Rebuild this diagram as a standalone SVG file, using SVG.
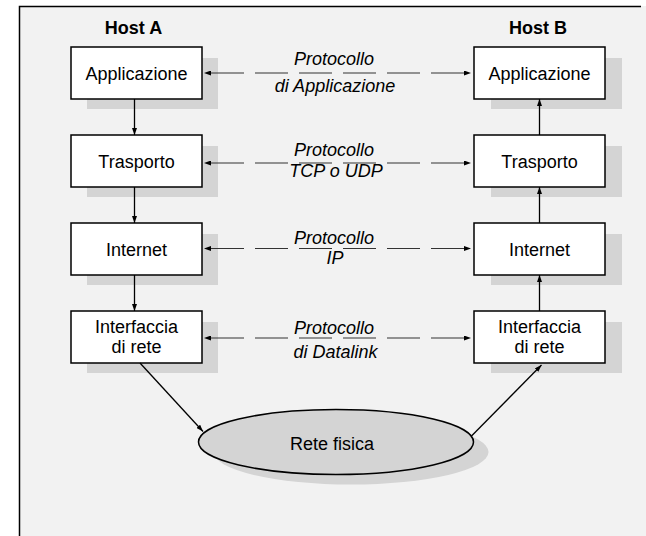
<svg xmlns="http://www.w3.org/2000/svg" width="646" height="536" viewBox="0 0 646 536">
<style>
text{font-family:"Liberation Sans",Arial,sans-serif;font-size:18px;fill:#000}
.host{font-weight:bold;text-anchor:middle}
.lbl{text-anchor:middle}
.proto{font-style:italic;text-anchor:middle}
.box{fill:#fff;stroke:#000;stroke-width:1.5}
.shadow{fill:#d4d4d4}
.dash{fill:none;stroke:#333;stroke-width:1.2;stroke-dasharray:33 11}
.solid{fill:none;stroke:#000;stroke-width:1.3}
</style>
<defs>
<marker id="ah" viewBox="0 0 7 5" refX="0" refY="2.5" markerWidth="7" markerHeight="5" markerUnits="userSpaceOnUse" orient="auto-start-reverse">
<path d="M0,0 L7,2.5 L0,5 z" fill="#000"/>
</marker>
<marker id="at" viewBox="0 0 7 5" refX="7" refY="2.5" markerWidth="7" markerHeight="5" markerUnits="userSpaceOnUse" orient="auto">
<path d="M0,0 L7,2.5 L0,5 z" fill="#000"/>
</marker>
</defs>
<rect x="19" y="6" width="627" height="530" fill="#f2f2f2"/>
<path d="M19.5,536 V6.5 H641" fill="none" stroke="#000" stroke-width="1.5"/>
<text class="host" x="133.5" y="34">Host A</text>
<text class="host" x="538" y="34">Host B</text>

<g id="a1"><rect class="shadow" x="87" y="58" width="131" height="51"/><rect class="box" x="71" y="47" width="131" height="52"/><text class="lbl" x="136.5" y="80">Applicazione</text></g>
<g id="a2"><rect class="shadow" x="87" y="146" width="131" height="51"/><rect class="box" x="71" y="135" width="131" height="52"/><text class="lbl" x="136.5" y="168">Trasporto</text></g>
<g id="a3"><rect class="shadow" x="87" y="234" width="131" height="51"/><rect class="box" x="71" y="223" width="131" height="52"/><text class="lbl" x="136.5" y="256">Internet</text></g>
<g id="a4"><rect class="shadow" x="87" y="322" width="131" height="51"/><rect class="box" x="71" y="311" width="131" height="52"/><text class="lbl" x="136.5" y="333">Interfaccia</text><text class="lbl" x="136.5" y="353">di rete</text></g>

<g id="b1"><rect class="shadow" x="491" y="58" width="131" height="51"/><rect class="box" x="474" y="47" width="131" height="52"/><text class="lbl" x="539.5" y="80">Applicazione</text></g>
<g id="b2"><rect class="shadow" x="491" y="146" width="131" height="51"/><rect class="box" x="474" y="135" width="131" height="52"/><text class="lbl" x="539.5" y="168">Trasporto</text></g>
<g id="b3"><rect class="shadow" x="491" y="234" width="131" height="51"/><rect class="box" x="474" y="223" width="131" height="52"/><text class="lbl" x="539.5" y="256">Internet</text></g>
<g id="b4"><rect class="shadow" x="491" y="322" width="131" height="51"/><rect class="box" x="474" y="311" width="131" height="52"/><text class="lbl" x="539.5" y="333">Interfaccia</text><text class="lbl" x="539.5" y="353">di rete</text></g>

<g id="net"><ellipse class="shadow" cx="351" cy="452" rx="137.5" ry="32.5"/><ellipse cx="336" cy="442" rx="137.5" ry="32.5" fill="#d4d4d4" stroke="#000" stroke-width="1.5"/><text class="lbl" x="332" y="450">Rete fisica</text></g>

<g id="connectors">
<path class="dash" d="M211,73 H464" marker-start="url(#ah)" marker-end="url(#ah)"/>
<path class="dash" d="M211,163 H464" marker-start="url(#ah)" marker-end="url(#ah)"/>
<path class="dash" d="M211,248.5 H464" marker-start="url(#ah)" marker-end="url(#ah)"/>
<path class="dash" d="M211,338 H464" marker-start="url(#ah)" marker-end="url(#ah)"/>
<path class="solid" d="M134.5,99 V135" marker-end="url(#at)"/>
<path class="solid" d="M134.5,187 V223" marker-end="url(#at)"/>
<path class="solid" d="M134.5,275 V311" marker-end="url(#at)"/>
<path class="solid" d="M539.5,135 V99" marker-end="url(#at)"/>
<path class="solid" d="M539.5,223 V187" marker-end="url(#at)"/>
<path class="solid" d="M539.5,311 V275" marker-end="url(#at)"/>
<path class="solid" d="M140,363 L203,431.5" marker-end="url(#at)"/>
<path class="solid" d="M471.5,436 L541.5,365" marker-end="url(#at)"/>
</g>

<g id="labels">
<text class="proto" x="334" y="65">Protocollo</text>
<text class="proto" x="335" y="92">di Applicazione</text>
<text class="proto" x="334" y="156">Protocollo</text>
<text class="proto" x="336" y="177">TCP o UDP</text>
<text class="proto" x="334" y="243.5">Protocollo</text>
<text class="proto" x="335" y="264">IP</text>
<text class="proto" x="334" y="334">Protocollo</text>
<text class="proto" x="335.5" y="357.5">di Datalink</text>
</g>
</svg>
